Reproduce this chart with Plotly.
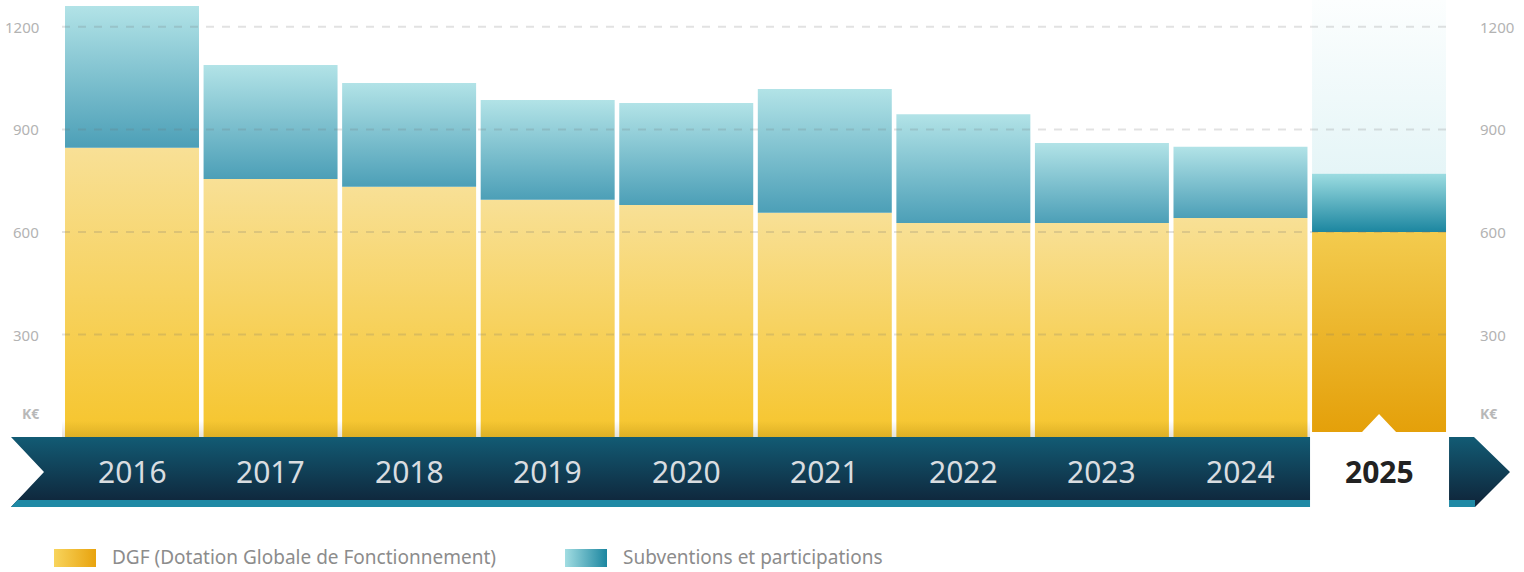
import plotly.graph_objects as go

# ---------------- data ----------------
years = ["2016", "2017", "2018", "2019", "2020", "2021", "2022", "2023", "2024", "2025"]
dgf = [846, 755, 732, 694, 679, 656, 626, 626, 641, 600]
subventions = [415, 333, 304, 292, 298, 362, 318, 234, 208, 170]
y_ticks = [300, 600, 900, 1200]
unit_label = "K€"
legend_labels = ["DGF (Dotation Globale de Fonctionnement)", "Subventions et participations"]
highlight_year = "2025"

# ---------------- geometry ----------------
W, H = 1524, 572
PX0, PITCH = 132.0, 138.56       # pixel centre of first bar, pixel pitch
BAR_W = 0.967                    # bar width in category units
Y0PX, PXU = 437.2, 0.342         # pixel of value 0, pixels per K€
x_range = [-PX0 / PITCH, (W - PX0) / PITCH]
y_range = [-(H - Y0PX) / PXU, Y0PX / PXU]

FONT = "Noto Sans"

# colours (bottom, top)
DGF_COL = ("#f6c52c", "#f8e096")
SUB_COL = ("#4c9fb7", "#b2e3e7")
DGF_HI = ("#e49f08", "#f3cb4e")
SUB_HI = ("#1c86a0", "#9cdce1")

traces = []


def poly(xs, ys, cs, start, stop, gtype="vertical", ax="1"):
    xa = "x" if ax == "1" else "x2"
    ya = "y" if ax == "1" else "y2"
    return go.Scatter(
        x=xs + [xs[0]], y=ys + [ys[0]], mode="lines", line=dict(width=0),
        fill="toself",
        fillgradient=dict(type=gtype, colorscale=cs, start=start, stop=stop),
        hoverinfo="skip", showlegend=False, xaxis=xa, yaxis=ya,
    )


def solid(xs, ys, color, ax="2"):
    xa = "x" if ax == "1" else "x2"
    ya = "y" if ax == "1" else "y2"
    return go.Scatter(
        x=xs + [xs[0]], y=ys + [ys[0]], mode="lines", line=dict(width=0),
        fill="toself", fillcolor=color, hoverinfo="skip", showlegend=False,
        xaxis=xa, yaxis=ya,
    )


# highlight background column for the last year
hi = years.index(highlight_year)
tot_hi = dgf[hi] + subventions[hi]
traces.append(poly([hi - BAR_W / 2, hi + BAR_W / 2, hi + BAR_W / 2, hi - BAR_W / 2],
                   [tot_hi, tot_hi, y_range[1], y_range[1]],
                   [[0, "#e5f5f7"], [1, "#fcfefe"]], tot_hi, y_range[1]))

# stacked bars
for i, yr in enumerate(years):
    x0, x1 = i - BAR_W / 2, i + BAR_W / 2
    dc = DGF_HI if yr == highlight_year else DGF_COL
    sc = SUB_HI if yr == highlight_year else SUB_COL
    d, s = dgf[i], subventions[i]
    traces.append(poly([x0, x1, x1, x0], [0, 0, d, d],
                       [[0, dc[0]], [1, dc[1]]], 0, d))
    traces.append(poly([x0, x1, x1, x0], [d, d, d + s, d + s],
                       [[0, sc[0]], [1, sc[1]]], d, d + s))

# ---------------- decorations (pixel axes) ----------------
# shadow at foot of bars
traces.append(poly([62, 1310, 1310, 62], [421, 421, 437.5, 437.5],
                   [[0, "rgba(90,60,0,0)"], [1, "rgba(90,60,0,0.16)"]], 421, 437.5, ax="2"))
# timeline band
traces.append(poly([11, 1474, 1510, 1475, 11, 44], [437, 437, 472, 507, 507, 472],
                   [[0, "#125b74"], [1, "#0f263b"]], 437, 503, ax="2"))
traces.append(solid([17.6, 1475, 1475, 11], [500, 500, 507, 507], "#1f89a5"))
# white box for highlighted year
hx = PX0 + hi * PITCH
traces.append(solid([hx - 69, hx - 17, hx, hx + 17, hx + 70, hx + 70, hx - 69],
                    [432, 432, 414, 432, 432, 509, 509], "#ffffff"))
# legend swatches
traces.append(poly([54, 96, 96, 54], [549, 549, 567, 567],
                   [[0, "#f8d45c"], [1, "#e8a30e"]], 54, 96, gtype="horizontal", ax="2"))
traces.append(poly([565, 607, 607, 565], [549, 549, 567, 567],
                   [[0, "#a2dde2"], [1, "#1c86a0"]], 565, 607, gtype="horizontal", ax="2"))

fig = go.Figure(traces)

# gridlines above bars
shapes = []
for t in y_ticks:
    shapes.append(dict(type="line", xref="x2", yref="y", x0=62, x1=1449, y0=t, y1=t,
                       line=dict(color="rgba(110,110,110,0.2)", width=2, dash="8px,8px"),
                       layer="above"))

ann = []
for t in y_ticks:
    ann.append(dict(xref="x2", yref="y", x=41, y=t, text=str(t), showarrow=False,
                    xanchor="right", yanchor="middle",
                    font=dict(family=FONT, size=15, color="#b3b3b3")))
    ann.append(dict(xref="x2", yref="y", x=1478, y=t, text=str(t), showarrow=False,
                    xanchor="left", yanchor="middle",
                    font=dict(family=FONT, size=15, color="#b3b3b3")))
for xx, anc in [(41, "right"), (1478, "left")]:
    ann.append(dict(xref="x2", yref="y2", x=xx, y=413, text="<b>" + unit_label + "</b>",
                    showarrow=False, xanchor=anc, yanchor="middle",
                    font=dict(family=FONT, size=14, color="#b8b8b8")))
for i, yr in enumerate(years):
    if yr == highlight_year:
        txt, col = "<b>" + yr + "</b>", "#222222"
    else:
        txt, col = yr, "#d9dde0"
    ann.append(dict(xref="x", yref="y2", x=i, y=471, text=txt, showarrow=False,
                    xanchor="center", yanchor="middle",
                    font=dict(family=FONT, size=30, color=col)))
ann.append(dict(xref="x2", yref="y2", x=110, y=557, text=legend_labels[0], showarrow=False,
                xanchor="left", yanchor="middle", font=dict(family=FONT, size=19, color="#8c8c8c")))
ann.append(dict(xref="x2", yref="y2", x=621, y=557, text=legend_labels[1], showarrow=False,
                xanchor="left", yanchor="middle", font=dict(family=FONT, size=19, color="#8c8c8c")))

hidden = dict(showgrid=False, zeroline=False, showticklabels=False, showline=False,
              ticks="", fixedrange=True)
fig.update_layout(
    width=W, height=H, autosize=False,
    margin=dict(l=0, r=0, t=0, b=0, pad=0),
    paper_bgcolor="#ffffff", plot_bgcolor="rgba(0,0,0,0)",
    showlegend=False, hovermode=False,
    xaxis=dict(range=x_range, domain=[0, 1], **hidden),
    yaxis=dict(range=y_range, domain=[0, 1], **hidden),
    xaxis2=dict(range=[0, W], overlaying="x", anchor="y2", **hidden),
    yaxis2=dict(range=[H, 0], overlaying="y", anchor="x2", **hidden),
    shapes=shapes, annotations=ann,
)

fig.write_html("out.html")
